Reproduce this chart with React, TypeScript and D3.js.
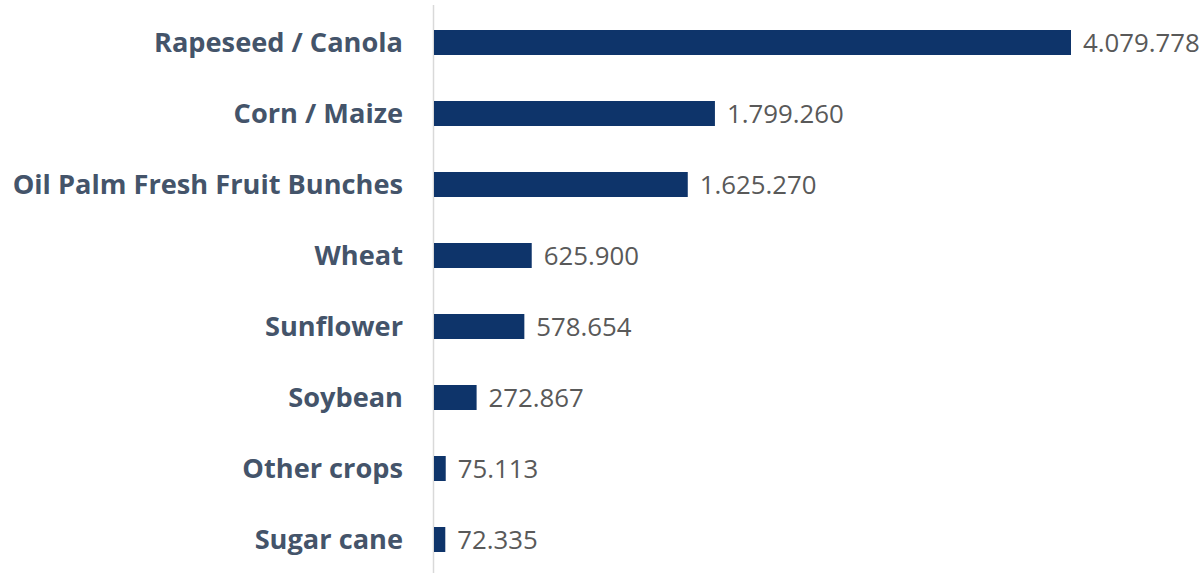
import React from 'react';
import * as d3 from 'd3';

const crops = [
  'Rapeseed / Canola',
  'Corn / Maize',
  'Oil Palm Fresh Fruit Bunches',
  'Wheat',
  'Sunflower',
  'Soybean',
  'Other crops',
  'Sugar cane',
];
const values = [4079778, 1799260, 1625270, 625900, 578654, 272867, 75113, 72335];

const W = 1204;
const H = 573;
const axisX = 434;

const fmt = (v: number) => d3.format(',')(v).replace(/,/g, '.');

export default function App() {
  const x = d3.scaleLinear().domain([0, 4079778]).range([axisX, 1071]);
  const y = d3.scaleBand<string>().domain(crops).range([7, 575]).paddingInner(0.648).paddingOuter(0.324);

  return (
    <svg width={W} height={H} style={{ position: 'absolute', left: 0, top: 0, background: '#fff' }}>
      <line x1={axisX - 0.5} x2={axisX - 0.5} y1={5} y2={H} stroke="#d9d9d9" strokeWidth={1.5} />
      {crops.map((c, i) => {
        const yc = (y(c) as number) + y.bandwidth() / 2;
        return (
          <g key={c}>
            <rect x={x(0)} y={y(c)} width={x(values[i]) - x(0)} height={y.bandwidth()} fill="#0e346a" />
            <text
              x={403}
              y={yc}
              dy="0.36em"
              textAnchor="end"
              fontFamily="'Open Sans', sans-serif"
              fontWeight="bold"
              fontSize={27.2}
              fill="#44546a"
            >
              {c}
            </text>
            <text
              x={x(values[i]) + 12}
              y={yc}
              dy="0.36em"
              fontFamily="'Open Sans', sans-serif"
              fontSize={25.8}
              fill="#595959"
            >
              {fmt(values[i])}
            </text>
          </g>
        );
      })}
    </svg>
  );
}
